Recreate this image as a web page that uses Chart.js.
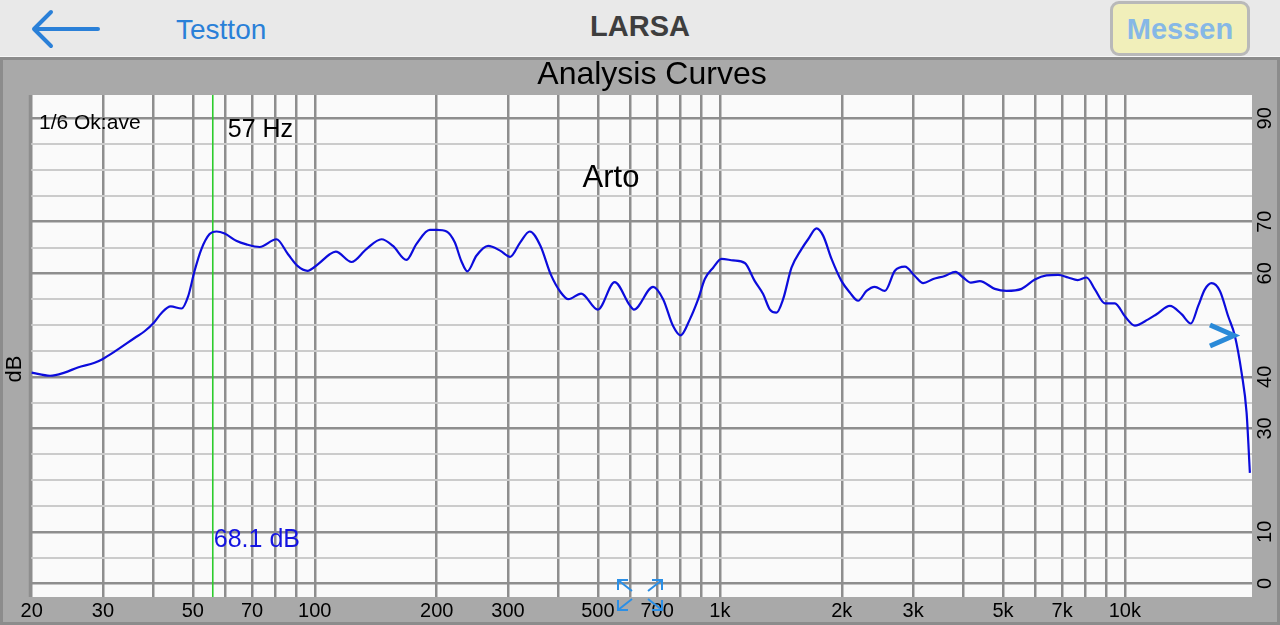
<!DOCTYPE html>
<html>
<head>
<meta charset="utf-8">
<script src="https://cdn.jsdelivr.net/npm/chart.js@4"></script>
<style>
  html, body { margin: 0; padding: 0; }
  body { width: 1280px; height: 625px; position: relative; overflow: hidden; background: #e8e8e8;
         font-family: "Liberation Sans", Arial, Helvetica, sans-serif; }
  #top { position: absolute; left: 0; top: 0; width: 1280px; height: 56px; background: #e9e9e9;
         border-bottom: 1px solid #f7f7f7; }
  #back { position: absolute; left: 28px; top: 8px; }
  #testton { position: absolute; left: 176px; top: 14px; font-size: 28px; color: #2a80d8; }
  #larsa { position: absolute; left: 0; width: 1280px; top: 10px; text-align: center; font-size: 29px;
           font-weight: bold; color: #3e3e3e; }
  #messen { position: absolute; left: 1110px; top: 1px; width: 134px; height: 49px; background: #f1efba;
            border: 3px solid #b9b9b9; border-radius: 9px; text-align: center; line-height: 50px;
            font-size: 29px; font-weight: bold; color: #86b8e6; }
  #panel { position: absolute; left: 0; top: 57px; width: 1280px; height: 568px; background: #a9a9a9;
           box-shadow: inset 0 0 0 3px #8c8c8c; }
  #analysisChart { position: absolute; left: 0; top: 0; }
</style>
</head>
<body>
<div id="top">
  <svg id="back" width="80" height="44">
    <path d="M6 21 H70 M6 21 L23 4 M6 21 L23 38" stroke="#2a80d8" stroke-width="4" fill="none"
          stroke-linecap="round" stroke-linejoin="round"/>
  </svg>
  <span id="testton">Testton</span>
  <div id="larsa">LARSA</div>
  <div id="messen">Messen</div>
</div>
<div id="panel">
  <canvas id="analysisChart" width="1280" height="568"></canvas>
</div>
<script>
const freqHz = [
    20, 22.2, 24.1, 26.0, 28.6, 29.9, 32.1, 35.9, 38.0, 40.1, 41.8, 44.1, 46.9, 48.7, 50.5, 52.5, 55.0, 57.2, 59.9, 64.0,
    67.8, 73.1, 80.4, 85.9, 90.8, 95.9, 101.9,
    108.9, 112.7, 123.2, 134.1, 146.1, 156, 168.4, 178.3, 192.3, 200, 211.6, 221.6, 230, 238.1, 250.6, 268, 286.8, 303.6,
    321.6, 339.4, 360.8, 382.4, 405, 422.8, 454.6, 500, 550,
    599.5, 613.5, 684.3, 724.4, 766.7, 799.8, 843.3, 884.2, 918.3, 962.7, 1009.7, 1078.5, 1152.6, 1220, 1279, 1329, 1380,
    1433, 1503, 1591, 1652, 1733, 1799, 1887, 1998, 2094, 2195, 2302, 2413, 2556, 2705, 2863, 3030, 3177, 3363,
    3593, 3819, 3988, 4168, 4385, 4775, 5104, 5559, 5995, 6406, 6843, 7244, 7644, 8043, 8433, 8925, 9447, 10000, 10586,
    11418, 11975, 12915, 13804, 14553, 15171, 15758, 16371, 17164, 17991, 18690, 19415, 19977, 20354,
];
const levelDb = [
    40.8, 40.2, 40.8, 41.8, 42.7, 43.4, 44.9, 47.5, 48.8, 50.5, 52.3, 53.6, 53.2, 55.6, 60.5, 64.7, 67.6, 68.1, 67.7, 66.3,
    65.6, 65.1, 66.6, 63.7, 61.4, 60.5, 61.8,
    63.7, 64.2, 62.2, 64.7, 66.6, 65.3, 62.6, 65.7, 68.4, 68.4, 68.1, 66.0, 62.4, 60.4, 63.4, 65.3, 64.4, 63.2,
    66.0, 68.1, 65.3, 59.8, 56.3, 55.0, 56.1, 53.0, 58.3,
    53.8, 53.0, 57.4, 55.0, 49.8, 48.0, 51.1, 55.0, 58.9, 61.1, 62.8, 62.5, 62.0, 58.5, 56.0, 53.0, 52.4,
    55.0, 61.1, 64.7, 66.6, 68.7, 67.3, 62.8, 58.5, 56.3, 54.7, 56.6, 57.4, 56.6, 60.5, 61.3, 59.5, 58.1, 58.9,
    59.5, 60.3, 59.2, 58.2, 58.5, 57.0, 56.6, 57.0, 58.8, 59.6, 59.7, 59.2, 58.7, 59.2, 56.9, 54.2, 54.2, 51.7, 49.9,
    51.1, 52.1, 53.7, 52.1, 50.3, 53.7, 56.9, 58.1, 56.6, 51.7, 47.9, 40.8, 33.0, 21.4,
];

// grid frequencies and the ones that carry a label
const freqGrid = [20, 30, 40, 50, 60, 70, 80, 90, 100, 200, 300, 400, 500, 600, 700, 800, 900,
    1000, 2000, 3000, 4000, 5000, 6000, 7000, 8000, 9000, 10000];
const freqLabels = { 20: "20", 30: "30", 50: "50", 70: "70", 100: "100", 200: "200", 300: "300", 500: "500",
    700: "700", 1000: "1k", 2000: "2k", 3000: "3k", 5000: "5k", 7000: "7k", 10000: "10k" };
const dbGrid = [0, 5, 10, 15, 20, 25, 30, 35, 40, 45, 50, 55, 60, 65, 70, 75, 80, 85, 90];
const dbLabels = [0, 10, 30, 40, 60, 70, 90];

const cursorHz = 56;
const cursorText = "57 Hz";
const cursorLevel = "68.1 dB";
const curveName = "Arto";
const bandText = "1/6 Ok:ave";

const FONT = '"Liberation Sans", Arial, sans-serif';
const GRID_DARK = "#8e8e8e";
const GRID_LIGHT = "#cbcbcb";

const overlay = {
    id: "overlay",
    beforeDraw(chart) {
        const { ctx, chartArea: a } = chart;
        ctx.save();
        ctx.fillStyle = "#fafafa";
        ctx.fillRect(a.left, a.top, a.right - a.left, a.bottom - a.top);
        ctx.restore();
    },
    beforeDatasetsDraw(chart) {
        const { ctx, chartArea: a, scales } = chart;
        const x = scales.x.getPixelForValue(cursorHz);
        ctx.save();
        ctx.strokeStyle = GRID_DARK;
        ctx.lineWidth = 2.5;
        ctx.beginPath();
        ctx.moveTo(a.left + 1, a.top);
        ctx.lineTo(a.left + 1, a.bottom);
        ctx.stroke();
        ctx.strokeStyle = "#2ccc2c";
        ctx.lineWidth = 1.6;
        ctx.beginPath();
        ctx.moveTo(x, a.top);
        ctx.lineTo(x, a.bottom);
        ctx.stroke();
        ctx.restore();
    },
    afterDraw(chart) {
        const { ctx, chartArea: a, scales } = chart;
        const x = scales.x.getPixelForValue(cursorHz);
        ctx.save();
        ctx.fillStyle = "#000";
        ctx.textBaseline = "middle";

        ctx.textAlign = "center";
        ctx.font = "32px " + FONT;
        ctx.fillText("Analysis Curves", 652, 18);

        ctx.textAlign = "left";
        ctx.font = "21px " + FONT;
        ctx.fillText(bandText, 39, 66);
        ctx.font = "25px " + FONT;
        ctx.fillText(cursorText, x + 15, 73);
        ctx.fillStyle = "#1414e0";
        ctx.fillText(cursorLevel, x + 1, 483);

        ctx.fillStyle = "#000";
        ctx.textAlign = "center";
        ctx.font = "31px " + FONT;
        ctx.fillText(curveName, 611, 121);

        // rotated labels: dB on the left, level ticks on the right
        ctx.font = "22px " + FONT;
        ctx.save();
        ctx.translate(15, 312);
        ctx.rotate(-Math.PI / 2);
        ctx.fillText("dB", 0, 0);
        ctx.restore();
        ctx.font = "20px " + FONT;
        dbLabels.forEach((v) => {
            ctx.save();
            ctx.translate(a.right + 13, scales.y.getPixelForValue(v));
            ctx.rotate(-Math.PI / 2);
            ctx.fillText(String(v), 0, 0);
            ctx.restore();
        });

        // blue chevron marker
        ctx.strokeStyle = "#2a8ad8";
        ctx.lineWidth = 5;
        ctx.beginPath();
        ctx.moveTo(1210, 268);
        ctx.lineTo(1234, 278.5);
        ctx.lineTo(1210, 289);
        ctx.stroke();

        // expand icon
        const cx = chart.width / 2, cy = 538;
        ctx.lineWidth = 2;
        ctx.strokeStyle = "#2b8fe6";
        [[-1, -1], [1, -1], [-1, 1], [1, 1]].forEach(([dx, dy]) => {
            const tx = cx + dx * 22, ty = cy + dy * 15;
            ctx.beginPath();
            ctx.moveTo(cx + dx * 8, cy + dy * 4);
            ctx.lineTo(tx, ty);
            ctx.moveTo(tx, ty - dy * 10);
            ctx.lineTo(tx, ty);
            ctx.lineTo(tx - dx * 10, ty);
            ctx.stroke();
        });
        ctx.restore();
    },
};

const ctx = document.getElementById("analysisChart").getContext("2d");

const analysisChart = new Chart(ctx, {
    type: "line",
    data: {
        datasets: [
            {
                label: curveName,
                data: freqHz.map((f, i) => ({ x: f, y: levelDb[i] })),
                borderColor: "#0c0cdc",
                borderWidth: 2.2,
                pointRadius: 0,
                cubicInterpolationMode: "monotone",
                fill: false,
            },
        ],
    },
    options: {
        responsive: false,
        animation: false,
        events: [],
        layout: { padding: { top: 38, left: 29, right: 0, bottom: 0 } },
        plugins: { legend: { display: false }, tooltip: { enabled: false }, title: { display: false } },
        scales: {
            x: {
                type: "logarithmic",
                min: 19.7,
                max: 20600,
                afterBuildTicks: (s) => { s.ticks = freqGrid.map((v) => ({ value: v })); },
                afterFit: (s) => { s.height = 28; },
                grid: { color: GRID_DARK, lineWidth: 2.5, drawTicks: false },
                border: { display: false },
                ticks: {
                    autoSkip: false,
                    maxRotation: 0,
                    padding: 2,
                    color: "#000",
                    font: { family: FONT, size: 20 },
                    callback: (v) => freqLabels[v] || "",
                },
            },
            y: {
                position: "right",
                min: -2.6,
                max: 94.5,
                afterBuildTicks: (s) => { s.ticks = dbGrid.map((v) => ({ value: v })); },
                afterFit: (s) => { s.width = 28; },
                grid: {
                    color: (c) => (dbLabels.includes(c.tick.value) ? GRID_DARK : GRID_LIGHT),
                    lineWidth: (c) => (dbLabels.includes(c.tick.value) ? 2.5 : 2),
                    drawTicks: false,
                },
                border: { display: false },
                ticks: { display: false },
            },
        },
    },
    plugins: [overlay],
});
</script>
</body>
</html>
